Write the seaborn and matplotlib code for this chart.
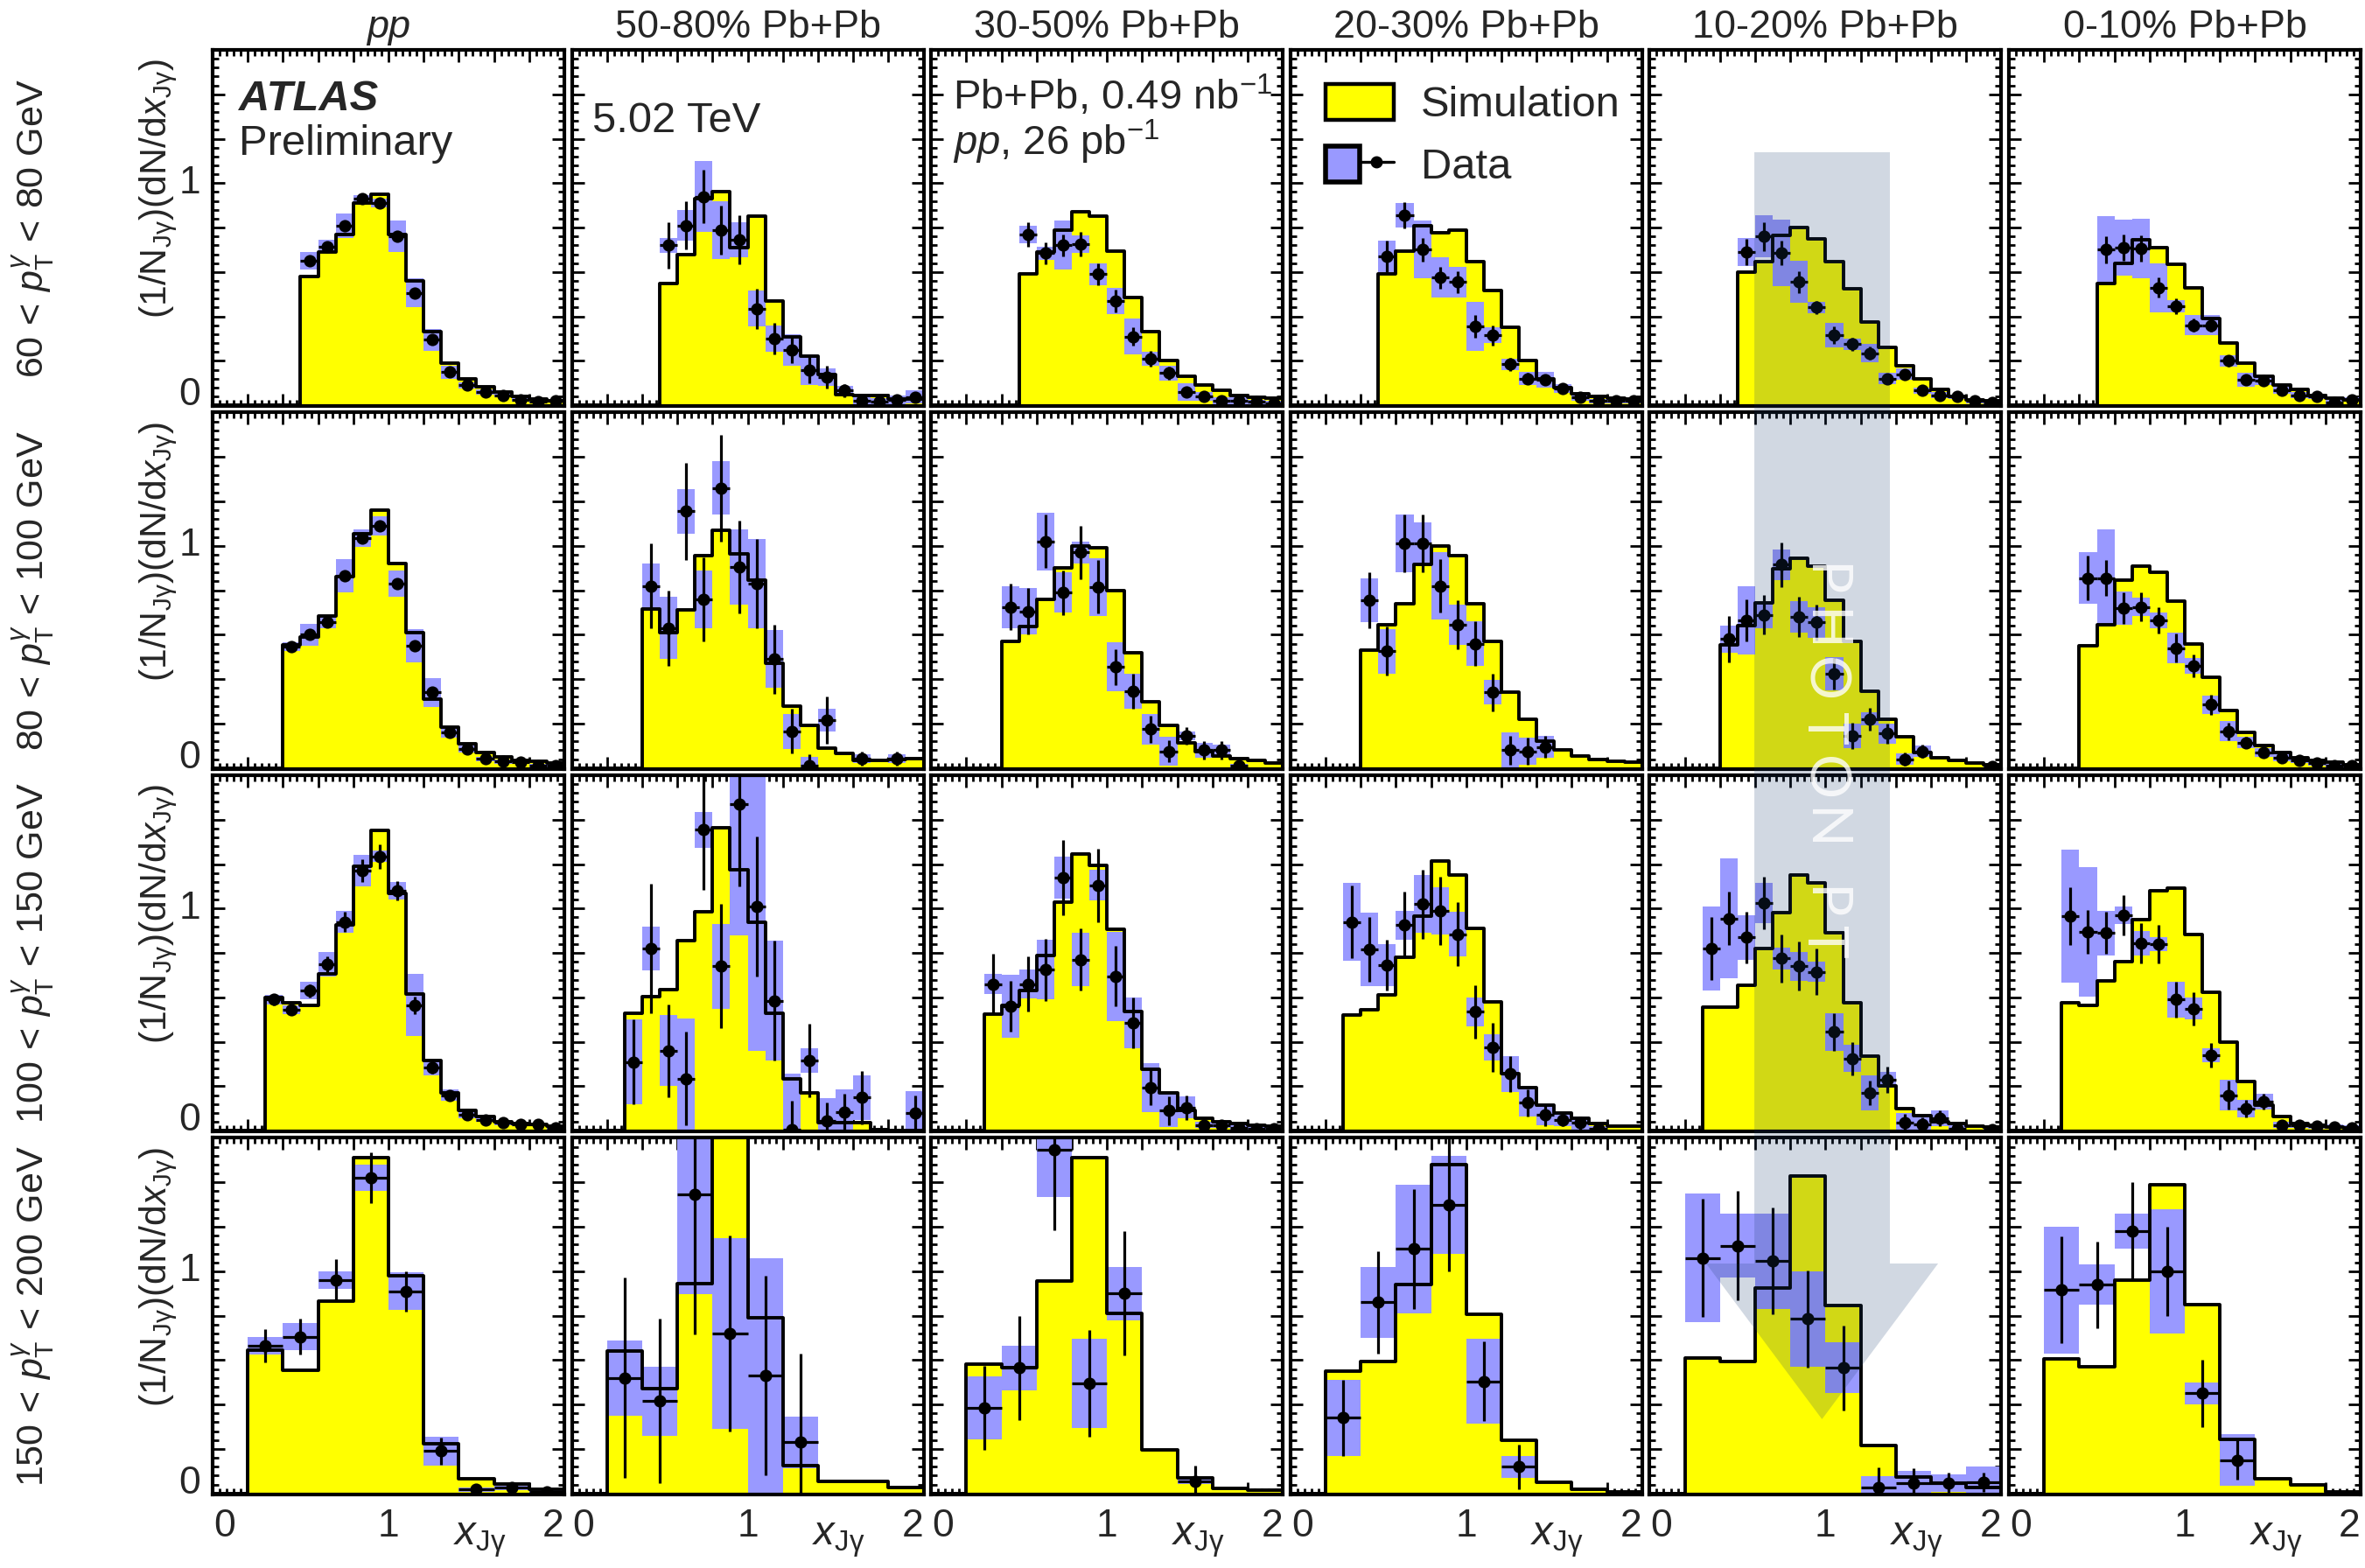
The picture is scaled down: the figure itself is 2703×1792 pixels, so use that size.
import numpy as np
import pandas as pd
import matplotlib
matplotlib.use("Agg")
import matplotlib.pyplot as plt
import matplotlib.transforms as mtransforms
import seaborn as sns
from matplotlib.patches import Polygon, Patch
from matplotlib.lines import Line2D
from matplotlib.legend_handler import HandlerTuple
from matplotlib.ticker import MultipleLocator, NullFormatter

nan = np.nan

# ---------------- labels ----------------
column_titles = ["pp", "50-80% Pb+Pb", "30-50% Pb+Pb", "20-30% Pb+Pb",
                 "10-20% Pb+Pb", "0-10% Pb+Pb"]
row_titles = [r"$60\,<\,p_{\mathrm{T}}^{\gamma}\,<\,80$ GeV",
              r"$80\,<\,p_{\mathrm{T}}^{\gamma}\,<\,100$ GeV",
              r"$100\,<\,p_{\mathrm{T}}^{\gamma}\,<\,150$ GeV",
              r"$150\,<\,p_{\mathrm{T}}^{\gamma}\,<\,200$ GeV"]
ylabel_text = r"$\mathrm{(1/N_{J\gamma})(dN/d}x_{\mathrm{J\gamma}}\mathrm{)}$"
xlabel_text = r"$x_{\mathrm{J\gamma}}$"
x_tick_values = [0, 1, 2]
x_tick_labels = ["0", "1", "2"]
y_tick_values = [0, 1]
y_tick_labels = ["0", "1"]
bin_width = [0.1, 0.1, 0.1, 0.2]
first_edge = [0.5, 0.4, 0.3, 0.2]

# ---------------- 60 < pT < 80 GeV (bins 0.5 .. 2.0) ----------------
sim_pt60_pp = [0.58, 0.69, 0.77, 0.91, 0.95, 0.77, 0.56, 0.33, 0.19, 0.12, 0.085, 0.06, 0.04, 0.03, 0.02]
dat_pt60_pp = [0.65, 0.715, 0.81, 0.93, 0.91, 0.76, 0.505, 0.295, 0.15, 0.09, 0.06, 0.045, 0.025, 0.016, 0.02]
stat_pt60_pp = [0.02, 0.02, 0.02, 0.02, 0.02, 0.02, 0.02, 0.015, 0.012, 0.01, 0.008, 0.007, 0.006, 0.005, 0.005]
sys_pt60_pp = [0.04, 0.03, 0.055, 0.017, 0.02, 0.07, 0.065, 0.05, 0.03, 0.015, 0.01, 0.01, 0.008, 0.006, 0.006]

sim_pt60_c5080 = [0.55, 0.68, 0.93, 0.96, 0.71, 0.85, 0.47, 0.31, 0.22, 0.14, 0.05, 0.045, 0.045, 0.03, 0.03]
dat_pt60_c5080 = [0.72, 0.81, 0.94, 0.79, 0.745, 0.435, 0.30, 0.25, 0.16, 0.127, 0.066, 0.02, 0.016, 0.026, 0.037]
stat_pt60_c5080 = [0.105, 0.11, 0.12, 0.11, 0.11, 0.09, 0.07, 0.06, 0.06, 0.05, 0.03, 0.02, 0.02, 0.02, 0.02]
sys_pt60_c5080 = [0.033, 0.07, 0.16, 0.13, 0.08, 0.08, 0.06, 0.07, 0.07, 0.04, 0.02, 0.015, 0.015, 0.02, 0.03]

sim_pt60_c3050 = [0.59, 0.69, 0.79, 0.87, 0.85, 0.695, 0.485, 0.33, 0.20, 0.13, 0.09, 0.066, 0.046, 0.037, 0.033]
dat_pt60_c3050 = [0.77, 0.685, 0.72, 0.725, 0.59, 0.47, 0.31, 0.21, 0.145, 0.06, 0.04, 0.02, 0.02, 0.015, 0.01]
stat_pt60_c3050 = [0.055, 0.05, 0.05, 0.055, 0.05, 0.05, 0.04, 0.035, 0.03, 0.02, 0.02, 0.015, 0.012, 0.01, 0.01]
sys_pt60_c3050 = [0.04, 0.03, 0.11, 0.04, 0.05, 0.06, 0.08, 0.03, 0.035, 0.04, 0.02, 0.015, 0.015, 0.01, 0.01]

sim_pt60_c2030 = [0.59, 0.695, 0.81, 0.775, 0.79, 0.645, 0.515, 0.35, 0.20, 0.12, 0.08, 0.052, 0.04, 0.033, 0.03]
dat_pt60_c2030 = [0.67, 0.855, 0.70, 0.575, 0.555, 0.355, 0.315, 0.185, 0.12, 0.115, 0.075, 0.037, 0.02, 0.02, 0.02]
stat_pt60_c2030 = [0.07, 0.06, 0.055, 0.05, 0.05, 0.05, 0.045, 0.03, 0.025, 0.02, 0.02, 0.015, 0.012, 0.01, 0.01]
sys_pt60_c2030 = [0.07, 0.055, 0.13, 0.09, 0.07, 0.11, 0.035, 0.025, 0.03, 0.035, 0.02, 0.015, 0.01, 0.01, 0.01]

sim_pt60_c1020 = [0.60, 0.645, 0.765, 0.80, 0.75, 0.645, 0.525, 0.375, 0.26, 0.18, 0.12, 0.07, 0.04, 0.026, 0.02]
dat_pt60_c1020 = [0.69, 0.76, 0.685, 0.555, 0.44, 0.315, 0.275, 0.235, 0.12, 0.14, 0.066, 0.046, 0.04, 0.02, 0.013]
stat_pt60_c1020 = [0.06, 0.065, 0.055, 0.05, 0.03, 0.04, 0.03, 0.03, 0.02, 0.02, 0.015, 0.012, 0.01, 0.01, 0.01]
sys_pt60_c1020 = [0.062, 0.094, 0.15, 0.095, 0.026, 0.055, 0.025, 0.04, 0.025, 0.025, 0.015, 0.012, 0.01, 0.01, 0.01]

sim_pt60_c0010 = [0.55, 0.64, 0.745, 0.71, 0.635, 0.53, 0.39, 0.28, 0.19, 0.13, 0.09, 0.07, 0.046, 0.033, 0.026]
dat_pt60_c0010 = [0.70, 0.71, 0.705, 0.53, 0.445, 0.36, 0.36, 0.20, 0.115, 0.11, 0.068, 0.046, 0.039, 0.013, 0.025]
stat_pt60_c0010 = [0.06, 0.06, 0.058, 0.045, 0.035, 0.03, 0.03, 0.025, 0.02, 0.02, 0.015, 0.012, 0.01, 0.01, 0.01]
sys_pt60_c0010 = [0.15, 0.125, 0.135, 0.11, 0.027, 0.045, 0.045, 0.025, 0.033, 0.02, 0.015, 0.012, 0.01, 0.01, 0.01]

# ---------------- 80 < pT < 100 GeV (bins 0.4 .. 2.0) ----------------
sim_pt80_pp = [0.555, 0.59, 0.685, 0.86, 1.055, 1.16, 0.92, 0.61, 0.31, 0.185, 0.11, 0.07, 0.05, 0.036, 0.029, 0.022]
dat_pt80_pp = [0.545, 0.60, 0.655, 0.865, 1.035, 1.09, 0.83, 0.55, 0.34, 0.16, 0.085, 0.042, 0.03, 0.028, 0.01, 0.01]
stat_pt80_pp = [0.015, 0.02, 0.02, 0.025, 0.025, 0.025, 0.025, 0.02, 0.02, 0.015, 0.01, 0.01, 0.008, 0.007, 0.006, 0.006]
sys_pt80_pp = [0.02, 0.05, 0.025, 0.075, 0.04, 0.045, 0.06, 0.075, 0.065, 0.025, 0.015, 0.01, 0.01, 0.01, 0.008, 0.008]

sim_pt80_c5080 = [0.715, 0.61, 0.71, 0.955, 1.07, 0.965, 0.845, 0.47, 0.28, 0.19, 0.09, 0.066, 0.036, 0.036, 0.038, 0.042]
dat_pt80_c5080 = [0.82, 0.63, 1.155, 0.76, 1.26, 0.905, 0.83, 0.49, 0.165, 0.01, 0.215, nan, 0.042, nan, 0.042, nan]
stat_pt80_c5080 = [0.19, 0.17, 0.22, 0.19, 0.24, 0.21, 0.2, 0.155, 0.1, 0.05, 0.105, 0, 0.03, 0, 0.03, 0]
sys_pt80_c5080 = [0.10, 0.14, 0.10, 0.13, 0.12, 0.17, 0.2, 0.13, 0.08, 0.04, 0.05, 0, 0.02, 0, 0.02, 0]

sim_pt80_c3050 = [0.57, 0.635, 0.76, 0.90, 1.0, 0.99, 0.80, 0.52, 0.30, 0.19, 0.115, 0.075, 0.055, 0.042, 0.033, 0.022]
dat_pt80_c3050 = [0.725, 0.705, 1.02, 0.79, 0.97, 0.815, 0.455, 0.345, 0.175, 0.075, 0.145, 0.08, 0.08, 0.01, nan, nan]
stat_pt80_c3050 = [0.105, 0.105, 0.12, 0.1, 0.12, 0.12, 0.08, 0.08, 0.06, 0.05, 0.04, 0.04, 0.04, 0.03, 0, 0]
sys_pt80_c3050 = [0.095, 0.105, 0.13, 0.09, 0.05, 0.13, 0.11, 0.08, 0.07, 0.065, 0.02, 0.035, 0.025, 0.01, 0, 0]

sim_pt80_c2030 = [0.53, 0.645, 0.74, 0.915, 1.0, 0.955, 0.74, 0.57, 0.34, 0.22, 0.12, 0.08, 0.055, 0.038, 0.029, 0.025]
dat_pt80_c2030 = [0.755, 0.525, 1.01, 1.01, 0.82, 0.645, 0.56, 0.34, 0.08, 0.075, 0.095, nan, nan, nan, nan, nan]
stat_pt80_c2030 = [0.125, 0.11, 0.13, 0.13, 0.12, 0.11, 0.1, 0.085, 0.065, 0.06, 0.05, 0, 0, 0, 0, 0]
sys_pt80_c2030 = [0.10, 0.10, 0.13, 0.095, 0.15, 0.09, 0.10, 0.055, 0.08, 0.06, 0.05, 0, 0, 0, 0, 0]

sim_pt80_c1020 = [0.555, 0.64, 0.745, 0.895, 0.945, 0.91, 0.755, 0.57, 0.345, 0.22, 0.14, 0.068, 0.046, 0.033, 0.022, 0.016]
dat_pt80_c1020 = [0.58, 0.665, 0.69, 0.915, 0.68, 0.655, 0.425, 0.145, 0.22, 0.155, 0.04, 0.075, nan, nan, nan, 0.005]
stat_pt80_c1020 = [0.105, 0.095, 0.09, 0.1, 0.09, 0.08, 0.07, 0.06, 0.05, 0.045, 0.03, 0.03, 0, 0, 0, 0.02]
sys_pt80_c1020 = [0.06, 0.155, 0.06, 0.07, 0.07, 0.07, 0.075, 0.055, 0.03, 0.045, 0.025, 0.025, 0, 0, 0, 0.01]

sim_pt80_c0010 = [0.55, 0.645, 0.845, 0.91, 0.88, 0.75, 0.56, 0.41, 0.26, 0.16, 0.10, 0.068, 0.045, 0.033, 0.026, 0.016]
dat_pt80_c0010 = [0.855, 0.855, 0.72, 0.725, 0.665, 0.54, 0.46, 0.285, 0.165, 0.115, 0.07, 0.045, 0.033, 0.022, 0.01, 0.01]
stat_pt80_c0010 = [0.1, 0.08, 0.07, 0.065, 0.06, 0.065, 0.05, 0.045, 0.04, 0.025, 0.02, 0.015, 0.012, 0.01, 0.01, 0.01]
sys_pt80_c0010 = [0.115, 0.22, 0.075, 0.04, 0.035, 0.07, 0.035, 0.04, 0.045, 0.025, 0.02, 0.015, 0.01, 0.01, 0.01, 0.01]

# ---------------- 100 < pT < 150 GeV (bins 0.3 .. 2.0) ----------------
sim_pt100_pp = [0.60, 0.575, 0.565, 0.705, 0.925, 1.19, 1.35, 1.07, 0.615, 0.315, 0.17, 0.09, 0.062, 0.042, 0.032, 0.029, 0.022]
dat_pt100_pp = [0.59, 0.545, 0.63, 0.75, 0.94, 1.17, 1.235, 1.08, 0.565, 0.285, 0.16, 0.07, 0.05, 0.036, 0.029, 0.029, 0.013]
stat_pt100_pp = [0.025, 0.025, 0.03, 0.035, 0.045, 0.05, 0.055, 0.045, 0.04, 0.03, 0.02, 0.015, 0.012, 0.01, 0.01, 0.008, 0.008]
sys_pt100_pp = [0.02, 0.02, 0.04, 0.055, 0.05, 0.07, 0.025, 0.04, 0.14, 0.035, 0.025, 0.015, 0.01, 0.01, 0.008, 0.008, 0.008]

sim_pt100_c5080 = [0.53, 0.605, 0.635, 0.855, 0.985, 1.365, 1.175, 0.94, 0.53, 0.235, 0.17, 0.036, 0.036, 0.036, 0.005, 0.0, 0.0]
dat_pt100_c5080 = [0.31, 0.82, 0.36, 0.235, 1.355, 0.74, 1.47, 1.01, 0.585, 0.005, 0.315, 0.045, 0.085, 0.15, nan, nan, 0.08]
stat_pt100_c5080 = [0.19, 0.29, 0.21, 0.21, 0.27, 0.28, 0.37, 0.315, 0.27, 0.13, 0.165, 0.08, 0.08, 0.12, 0, 0, 0.08]
sys_pt100_c5080 = [0.19, 0.10, 0.16, 0.27, 0.08, 0.19, 0.59, 0.65, 0.27, 0.25, 0.055, 0.1, 0.1, 0.1, 0, 0, 0.1]

sim_pt100_c3050 = [0.525, 0.565, 0.63, 0.79, 1.03, 1.245, 1.195, 0.905, 0.535, 0.275, 0.17, 0.09, 0.055, 0.04, 0.032, 0.026, 0.022]
dat_pt100_c3050 = [0.66, 0.56, 0.66, 0.725, 1.14, 0.77, 1.105, 0.695, 0.485, 0.195, 0.09, 0.105, 0.026, 0.026, 0.013, 0.01, 0.01]
stat_pt100_c3050 = [0.135, 0.115, 0.125, 0.14, 0.17, 0.14, 0.165, 0.135, 0.115, 0.08, 0.065, 0.055, 0.02, 0.02, 0.015, 0.01, 0.01]
sys_pt100_c3050 = [0.045, 0.14, 0.065, 0.135, 0.095, 0.12, 0.07, 0.2, 0.115, 0.11, 0.075, 0.05, 0.015, 0.015, 0.01, 0.01, 0.01]

sim_pt100_c2030 = [0.52, 0.545, 0.61, 0.78, 0.965, 1.215, 1.15, 0.91, 0.58, 0.255, 0.195, 0.115, 0.08, 0.055, 0.032, 0.022, 0.022]
dat_pt100_c2030 = [0.94, 0.815, 0.745, 0.925, 1.02, 0.99, 0.885, 0.535, 0.375, 0.255, 0.125, 0.07, 0.05, 0.035, 0.01, nan, nan]
stat_pt100_c2030 = [0.165, 0.145, 0.115, 0.15, 0.155, 0.155, 0.145, 0.12, 0.11, 0.08, 0.06, 0.05, 0.03, 0.03, 0.02, 0, 0]
sys_pt100_c2030 = [0.175, 0.165, 0.095, 0.065, 0.13, 0.105, 0.1, 0.065, 0.06, 0.08, 0.06, 0.045, 0.03, 0.03, 0.01, 0, 0]

sim_pt100_c1020 = [0.555, 0.555, 0.655, 0.82, 0.98, 1.15, 1.115, 0.89, 0.575, 0.335, 0.2, 0.1, 0.066, 0.04, 0.032, 0.022, 0.016]
dat_pt100_c1020 = [0.82, 0.955, 0.87, 1.025, 0.775, 0.74, 0.715, 0.445, 0.325, 0.17, 0.23, 0.035, 0.03, 0.055, 0.01, nan, 0.005]
stat_pt100_c1020 = [0.14, 0.12, 0.115, 0.12, 0.11, 0.11, 0.105, 0.085, 0.075, 0.055, 0.06, 0.04, 0.03, 0.035, 0.02, 0, 0.02]
sys_pt100_c1020 = [0.19, 0.27, 0.1, 0.09, 0.05, 0.065, 0.045, 0.085, 0.06, 0.08, 0.035, 0.045, 0.03, 0.035, 0.015, 0, 0.015]

sim_pt100_c0010 = [0.575, 0.565, 0.675, 0.76, 0.95, 1.08, 1.09, 0.885, 0.625, 0.4, 0.22, 0.115, 0.062, 0.032, 0.026, 0.018, 0.013]
dat_pt100_c0010 = [0.965, 0.895, 0.89, 0.97, 0.845, 0.84, 0.59, 0.55, 0.34, 0.16, 0.10, 0.13, 0.026, 0.026, 0.022, 0.018, 0.013]
stat_pt100_c0010 = [0.13, 0.1, 0.095, 0.09, 0.09, 0.085, 0.08, 0.075, 0.055, 0.065, 0.04, 0.035, 0.02, 0.02, 0.015, 0.01, 0.01]
sys_pt100_c0010 = [0.3, 0.29, 0.1, 0.04, 0.055, 0.03, 0.08, 0.05, 0.03, 0.07, 0.04, 0.035, 0.015, 0.015, 0.012, 0.01, 0.01]

# ---------------- 150 < pT < 200 GeV (bins 0.2 .. 2.0, width 0.2) ----------------
sim_pt150_pp = [0.645, 0.555, 0.865, 1.51, 0.98, 0.225, 0.067, 0.041, 0.017]
dat_pt150_pp = [0.665, 0.705, 0.96, 1.42, 0.91, 0.19, 0.017, 0.025, 0.008]
stat_pt150_pp = [0.075, 0.08, 0.095, 0.115, 0.09, 0.06, 0.02, 0.02, 0.01]
sys_pt150_pp = [0.04, 0.06, 0.04, 0.06, 0.085, 0.065, 0.01, 0.01, 0.005]

sim_pt150_c5080 = [0.64, 0.47, 0.945, 1.75, 0.79, 0.125, 0.054, 0.054, 0.025]
dat_pt150_c5080 = [0.52, 0.415, 1.345, 0.72, 0.53, 0.23, nan, nan, nan]
stat_pt150_c5080 = [0.45, 0.37, 0.63, 0.44, 0.45, 0.4, 0, 0, 0]
sys_pt150_c5080 = [0.17, 0.155, 0.45, 0.43, 0.53, 0.115, 0, 0, 0]

sim_pt150_c3050 = [0.58, 0.565, 0.955, 1.51, 0.81, 0.195, 0.068, 0.024, 0.013]
dat_pt150_c3050 = [0.385, 0.565, 1.545, 0.495, 0.90, nan, 0.056, nan, nan]
stat_pt150_c3050 = [0.19, 0.235, 0.36, 0.24, 0.28, 0, 0.07, 0, 0]
sys_pt150_c3050 = [0.14, 0.1, 0.21, 0.2, 0.12, 0, 0.015, 0, 0]

sim_pt150_c2030 = [0.55, 0.595, 0.94, 1.48, 0.805, 0.24, 0.052, 0.02, 0.007]
dat_pt150_c2030 = [0.34, 0.86, 1.10, 1.30, 0.505, 0.12, nan, nan, nan]
stat_pt150_c2030 = [0.17, 0.23, 0.27, 0.3, 0.18, 0.1, 0, 0, 0]
sys_pt150_c2030 = [0.17, 0.16, 0.29, 0.22, 0.19, 0.05, 0, 0, 0]

sim_pt150_c1020 = [0.61, 0.595, 0.925, 1.43, 0.845, 0.215, 0.073, 0.047, 0.025]
dat_pt150_c1020 = [1.06, 1.115, 1.045, 0.785, 0.565, 0.027, 0.047, 0.047, 0.05]
stat_pt150_c1020 = [0.265, 0.245, 0.24, 0.22, 0.19, 0.09, 0.065, 0.045, 0.045]
sys_pt150_c1020 = [0.29, 0.145, 0.215, 0.215, 0.115, 0.05, 0.055, 0.04, 0.07]

sim_pt150_c0010 = [0.605, 0.57, 0.96, 1.39, 0.85, 0.245, 0.067, 0.038, 0.005]
dat_pt150_c0010 = [0.915, 0.94, 1.18, 1.0, 0.45, 0.15, nan, nan, nan]
stat_pt150_c0010 = [0.24, 0.195, 0.22, 0.2, 0.15, 0.09, 0, 0, 0]
sys_pt150_c0010 = [0.285, 0.09, 0.08, 0.28, 0.05, 0.115, 0, 0, 0]

# tables built from the named arrays above
SIM = [[sim_pt60_pp, sim_pt60_c5080, sim_pt60_c3050, sim_pt60_c2030, sim_pt60_c1020, sim_pt60_c0010],
       [sim_pt80_pp, sim_pt80_c5080, sim_pt80_c3050, sim_pt80_c2030, sim_pt80_c1020, sim_pt80_c0010],
       [sim_pt100_pp, sim_pt100_c5080, sim_pt100_c3050, sim_pt100_c2030, sim_pt100_c1020, sim_pt100_c0010],
       [sim_pt150_pp, sim_pt150_c5080, sim_pt150_c3050, sim_pt150_c2030, sim_pt150_c1020, sim_pt150_c0010]]
DAT = [[dat_pt60_pp, dat_pt60_c5080, dat_pt60_c3050, dat_pt60_c2030, dat_pt60_c1020, dat_pt60_c0010],
       [dat_pt80_pp, dat_pt80_c5080, dat_pt80_c3050, dat_pt80_c2030, dat_pt80_c1020, dat_pt80_c0010],
       [dat_pt100_pp, dat_pt100_c5080, dat_pt100_c3050, dat_pt100_c2030, dat_pt100_c1020, dat_pt100_c0010],
       [dat_pt150_pp, dat_pt150_c5080, dat_pt150_c3050, dat_pt150_c2030, dat_pt150_c1020, dat_pt150_c0010]]
STAT = [[stat_pt60_pp, stat_pt60_c5080, stat_pt60_c3050, stat_pt60_c2030, stat_pt60_c1020, stat_pt60_c0010],
        [stat_pt80_pp, stat_pt80_c5080, stat_pt80_c3050, stat_pt80_c2030, stat_pt80_c1020, stat_pt80_c0010],
        [stat_pt100_pp, stat_pt100_c5080, stat_pt100_c3050, stat_pt100_c2030, stat_pt100_c1020, stat_pt100_c0010],
        [stat_pt150_pp, stat_pt150_c5080, stat_pt150_c3050, stat_pt150_c2030, stat_pt150_c1020, stat_pt150_c0010]]
SYS = [[sys_pt60_pp, sys_pt60_c5080, sys_pt60_c3050, sys_pt60_c2030, sys_pt60_c1020, sys_pt60_c0010],
       [sys_pt80_pp, sys_pt80_c5080, sys_pt80_c3050, sys_pt80_c2030, sys_pt80_c1020, sys_pt80_c0010],
       [sys_pt100_pp, sys_pt100_c5080, sys_pt100_c3050, sys_pt100_c2030, sys_pt100_c1020, sys_pt100_c0010],
       [sys_pt150_pp, sys_pt150_c5080, sys_pt150_c3050, sys_pt150_c2030, sys_pt150_c1020, sys_pt150_c0010]]

# ---------------- style ----------------
YELLOW = "#FFFF00"
BLUE = "#9999FF"
sns.set_theme(style="ticks")
plt.rcParams["font.family"] = ["Liberation Sans", "DejaVu Sans"]
plt.rcParams["mathtext.fontset"] = "custom"
plt.rcParams["mathtext.rm"] = "Liberation Sans"
plt.rcParams["mathtext.it"] = "Liberation Sans:italic"
plt.rcParams["mathtext.bf"] = "Liberation Sans:bold"
plt.rcParams["axes.linewidth"] = 1.5
plt.rcParams["axes.edgecolor"] = "black"

DPI = 200
fig = plt.figure(figsize=(2703 / DPI, 1792 / DPI), dpi=DPI)
gs = fig.add_gridspec(4, 6, left=0.0899, right=0.99815, top=0.9682, bottom=0.04688,
                      wspace=0.0214, hspace=0.0172)

TICK_FS = 16

axes = {}
for r in range(4):
    w = bin_width[r]
    edges = [round(v, 4) for v in np.arange(0.0, 2.0 + w / 2, w)]
    centers = np.array(edges[:-1]) + w / 2
    npad = int(round(first_edge[r] / w))
    for c in range(6):
        ax = fig.add_subplot(gs[r, c])
        axes[(r, c)] = ax
        sim = np.concatenate([np.zeros(npad), np.asarray(SIM[r][c], float)])
        dat = np.concatenate([np.full(npad, nan), np.asarray(DAT[r][c], float)])
        stat = np.concatenate([np.zeros(npad), np.asarray(STAT[r][c], float)])
        sysu = np.concatenate([np.zeros(npad), np.asarray(SYS[r][c], float)])
        df = pd.DataFrame({"x": centers, "w": sim})

        # simulation: yellow filled histogram + black step outline
        sns.histplot(data=df, x="x", weights="w", bins=edges, element="step", fill=True,
                     color=YELLOW, alpha=1.0, linewidth=0, ax=ax, zorder=1)
        m = ~np.isnan(dat)
        # systematic boxes
        ax.bar(centers[m], 2 * sysu[m], bottom=dat[m] - sysu[m], width=w,
               color=BLUE, linewidth=0, zorder=2)
        sns.histplot(data=df, x="x", weights="w", bins=edges, element="step", fill=False,
                     color="black", linewidth=1.4, ax=ax, zorder=3)
        # data points
        ax.errorbar(centers[m], dat[m], yerr=stat[m], xerr=w / 2, fmt="none",
                    ecolor="black", elinewidth=1.15, capsize=0, zorder=4)
        sns.scatterplot(x=centers[m], y=dat[m], color="black", s=26, linewidth=0,
                        ax=ax, zorder=5, legend=False)

        ax.set_xlim(0, 2)
        ax.set_ylim(-0.005, 1.6)
        ax.set_xlabel("")
        ax.set_ylabel("")
        ax.xaxis.set_major_locator(MultipleLocator(0.2))
        ax.xaxis.set_minor_locator(MultipleLocator(0.04))
        ax.yaxis.set_major_locator(MultipleLocator(0.2))
        ax.yaxis.set_minor_locator(MultipleLocator(0.04))
        ax.xaxis.set_major_formatter(NullFormatter())
        ax.yaxis.set_major_formatter(NullFormatter())
        ax.tick_params(which="both", direction="in", top=True, right=True,
                       bottom=True, left=True, color="black", width=1.0)
        ax.tick_params(which="major", length=5.0)
        ax.tick_params(which="minor", length=2.5)
        for s in ax.spines.values():
            s.set_linewidth(1.5)
            s.set_color("black")
            s.set_zorder(6)

        # ROOT-like tick labels (0 | 1 | 2), aligned inside the panel edges
        if r == 3:
            tx = mtransforms.blended_transform_factory(ax.transData, ax.transAxes)
            for v, lab in zip(x_tick_values, x_tick_labels):
                ha = "left" if v == 0 else ("right" if v == 2 else "center")
                ax.text(v + (0.005 if v == 0 else 0.0), -0.04, lab, transform=tx, ha=ha,
                        va="top", fontsize=TICK_FS)
            ax.text(0.683, -0.14, xlabel_text, transform=ax.transAxes, ha="left",
                    va="baseline", fontsize=17)
        if c == 0:
            ty = mtransforms.blended_transform_factory(ax.transAxes, ax.transData)
            for v, lab in zip(y_tick_values, y_tick_labels):
                ax.text(-0.035, v + (0.045 if v == 0 else 0.0), lab, transform=ty,
                        ha="right", va="center", fontsize=TICK_FS)
            ax.text(-0.154, 0.975, ylabel_text, transform=ax.transAxes, rotation=90,
                    ha="center", va="top", fontsize=15.4)
        if r == 0:
            ax.text(0.5, 1.034, column_titles[c], transform=ax.transAxes, ha="center",
                    va="baseline", fontsize=16.2, style=("italic" if c == 0 else "normal"))

# row labels
for r in range(4):
    bb = axes[(r, 0)].get_position()
    fig.text(38 / 2703, (bb.y0 + bb.y1) / 2, row_titles[r], rotation=90,
             ha="center", va="center", fontsize=15.5)

# annotations
BIG = 17.6
a = axes[(0, 0)]
a.text(0.074, 0.83, "ATLAS", transform=a.transAxes, fontsize=BIG, fontweight="bold",
       style="italic", va="baseline")
a.text(0.074, 0.705, "Preliminary", transform=a.transAxes, fontsize=BIG, va="baseline")
a = axes[(0, 1)]
a.text(0.057, 0.77, "5.02 TeV", transform=a.transAxes, fontsize=BIG, va="baseline")
a = axes[(0, 2)]
a.text(0.062, 0.833, r"Pb+Pb, 0.49 nb$^{\mathrm{-1}}$", transform=a.transAxes,
       fontsize=17, va="baseline")
a.text(0.062, 0.705, r"$pp$, 26 pb$^{\mathrm{-1}}$", transform=a.transAxes,
       fontsize=17, va="baseline")

# legend
a = axes[(0, 3)]
h_sim = Patch(facecolor=YELLOW, edgecolor="black", linewidth=1.6)
h_box = Patch(facecolor=BLUE, edgecolor="black", linewidth=2.0)
h_pt = Line2D([], [], color="black", linewidth=1.2, marker="o", markersize=4)
a.legend([h_sim, (h_box, h_pt)], ["Simulation", "Data"],
         handler_map={tuple: HandlerTuple(ndivide=None)},
         loc="upper left", bbox_to_anchor=(0.099, 0.905), borderaxespad=0, borderpad=0,
         frameon=False, fontsize=BIG, handlelength=1.6, handleheight=0.92,
         handletextpad=0.63, labelspacing=0.48)

# watermark arrow
arrow_pts = [(0.7418, 0.9029), (0.7991, 0.9029), (0.7991, 0.1942), (0.8195, 0.1942),
             (0.7704, 0.0949), (0.7214, 0.1942), (0.7418, 0.1942)]
fig.add_artist(Polygon(arrow_pts, closed=True, transform=fig.transFigure,
                       facecolor=(29 / 255, 62 / 255, 110 / 255), alpha=0.2,
                       edgecolor="none", zorder=10))
# letter-spaced watermark text, read top to bottom
wm_letters = "PHOTONPT"
wm_centers_px = [663, 720, 777, 833, 890, 947, 1032, 1077]
for ch, yc in zip(wm_letters, wm_centers_px):
    fig.text(2083 / 2703, 1 - yc / 1792, ch, rotation=-90, color="white", alpha=0.8,
             fontsize=23, fontfamily=["Lato", "DejaVu Sans"], fontweight="normal",
             ha="center", va="center", zorder=11)

fig.savefig("out.png", dpi=DPI)
